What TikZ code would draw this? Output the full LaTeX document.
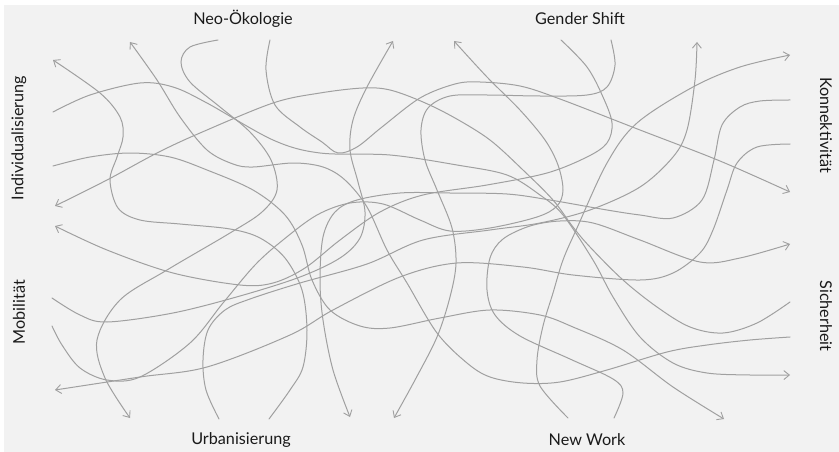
\documentclass[tikz,border=0pt]{standalone}
\usepackage{fontspec}
\setmainfont{Lato}
\usetikzlibrary{arrows.meta}
\definecolor{bg}{HTML}{F2F2F2}
\definecolor{ln}{HTML}{A0A0A0}
\definecolor{tx}{HTML}{1A1A1A}
\tikzset{
  strand/.style={draw=ln, line width=1pt, line cap=round},
  arrowstrand/.style={strand, -{Straight Barb[length=5.5pt,width=9pt,line width=0.9pt]}},
  trend/.style={text=tx, font=\fontsize{16.2}{19}\selectfont, inner sep=0pt}
}
\begin{document}
\begin{tikzpicture}[x=1pt,y=-1pt]
\useasboundingbox (0,0) rectangle (839,452);
\fill[white] (0,0) rectangle (839,452);
\fill[bg] (4,5) rectangle (839,452);

% labels
\node[trend] (neo) at (243,19) {Neo-Ökologie};
\node[trend] (gender) at (580,19) {Gender Shift};
\node[trend] (urban) at (241,440) {Urbanisierung};
\node[trend] (newwork) at (587,440) {New Work};
\node[trend, rotate=90] (indiv) at (19,138) {Individualisierung};
\node[trend, rotate=90] (mobil) at (19,312) {Mobilität};
\node[trend, rotate=-90] (konn) at (826,125) {Konnektivität};
\node[trend, rotate=-90] (sich) at (826,316) {Sicherheit};

% 1 Neo-Oekologie -> Urbanisierung
\draw[arrowstrand] plot[smooth,tension=0.55] coordinates {(218,40) (190,47) (181,62) (190,82) (220,107) (250,132) (271,160) (277,190) (262,212) (230,233) (167,270) (120,300) (97,340) (105,378) (130,418)};
% 2 Neo-Oekologie -> Konnektivitaet
\draw[arrowstrand] plot[smooth,tension=0.55] coordinates {(270,40) (266,70) (275,105) (300,127) (322,142) (338,153) (357,147) (382,127) (420,98) (455,84) (480,82) (520,86) (560,99) (640,130) (720,161) (790,192)};
% 3 Gender Shift -> Urbanisierung
\draw[arrowstrand] plot[smooth,tension=0.55] coordinates {(611,40) (615,65) (607,87) (587,95) (540,96) (487,95) (450,96) (428,108) (421,130) (425,160) (437,190) (452,228) (456,263) (450,297) (437,337) (415,380) (394,418)};
% 4 Mobilitaet -> Neo-Oekologie
\draw[arrowstrand] plot[smooth,tension=0.55] coordinates {(52,298) (80,315) (107,322) (173,313) (240,296) (300,277) (340,258) (360,238) (365,212) (358,182) (350,150) (353,120) (367,87) (393,41)};
% 5 Sicherheit -> Neo-Oekologie
\draw[arrowstrand] plot[smooth,tension=0.55] coordinates {(790,337) (750,340) (707,345) (667,352) (607,370) (560,382) (523,383) (490,377) (467,363) (437,333) (407,283) (387,250) (367,207) (345,180) (323,167) (293,163) (253,167) (233,164) (207,150) (180,117) (157,80) (130,42)};
% 6 Konnektivitaet -> Urbanisierung
\draw[arrowstrand] plot[smooth,tension=0.55] coordinates {(790,100) (760,101) (740,107) (722,125) (714,160) (702,200) (673,218) (640,215) (607,210) (550,200) (507,194) (450,193) (400,193) (357,200) (335,212) (323,237) (320,280) (323,320) (333,370) (350,417)};
% 7 Konnektivitaet -> Mobilitaet
\draw[arrowstrand] plot[smooth,tension=0.55] coordinates {(790,144) (757,147) (737,163) (727,190) (713,230) (700,253) (673,273) (640,280) (573,275) (523,267) (457,263) (400,277) (333,310) (290,335) (207,367) (140,377) (55,390)};
% 8 Sicherheit -> Individualisierung
\draw[arrowstrand] plot[smooth,tension=0.55] coordinates {(790,302) (757,323) (723,333) (690,327) (657,307) (623,280) (590,247) (573,227) (553,200) (523,170) (490,140) (455,118) (423,102) (390,90) (363,88) (320,93) (273,103) (200,133) (157,153) (107,180) (55,206)};
% 9 Individualisierung -> Sicherheit
\draw[arrowstrand] plot[smooth,tension=0.55] coordinates {(53,112) (90,95) (140,83) (173,87) (207,103) (273,140) (320,153) (390,155) (457,165) (507,175) (540,195) (563,215) (593,260) (613,297) (640,337) (673,363) (707,373) (750,375) (790,375)};
% 10 Urbanisierung -> Individualisierung
\draw[arrowstrand] plot[smooth,tension=0.55] coordinates {(269,419) (290,390) (303,367) (307,330) (302,290) (285,258) (260,238) (230,229) (180,224) (140,220) (118,208) (110,180) (117,157) (123,137) (120,117) (100,93) (53,60)};
% 11 Mobilitaet -> Gender Shift
\draw[arrowstrand] plot[smooth,tension=0.55] coordinates {(52,326) (62,345) (80,368) (107,380) (140,377) (190,343) (223,303) (255,265) (283,240) (317,215) (350,203) (383,204) (420,220) (450,231) (490,228) (537,217) (557,206) (563,190) (558,165) (545,140) (520,110) (487,77) (454,41)};
% 12 Gender Shift -> Individualisierung
\draw[arrowstrand] plot[smooth,tension=0.55] coordinates {(561,40) (587,67) (603,97) (612,123) (607,143) (587,157) (547,173) (487,185) (423,195) (380,212) (340,240) (305,268) (273,283) (240,285) (173,273) (107,250) (55,226)};
% 13 New Work -> Sicherheit
\draw[arrowstrand] plot[smooth,tension=0.55] coordinates {(614,418) (623,393) (613,379) (570,359) (520,336) (495,315) (487,290) (490,258) (503,239) (530,226) (560,221) (593,223) (640,240) (700,262) (740,258) (790,244)};
% 14 New Work -> Konnektivitaet
\draw[arrowstrand] plot[smooth,tension=0.55] coordinates {(568,418) (540,386) (537,360) (543,326) (553,293) (563,260) (577,228) (607,163) (637,123) (693,87) (740,67) (790,55)};
% 15 Urbanisierung -> Gender Shift
\draw[arrowstrand] plot[smooth,tension=0.55] coordinates {(219,419) (206,390) (203,360) (208,330) (225,310) (250,299) (300,283) (367,264) (423,240) (490,230) (540,223) (590,210) (640,187) (673,157) (687,130) (695,80) (697,42)};
% 16 Individualisierung -> New Work
\draw[arrowstrand] plot[smooth,tension=0.55] coordinates {(53,166) (90,157) (130,153) (170,157) (207,170) (253,190) (285,215) (302,245) (312,280) (330,310) (360,326) (390,328) (440,318) (490,310) (540,315) (573,327) (623,350) (673,387) (724,419)};
\end{tikzpicture}
\end{document}
